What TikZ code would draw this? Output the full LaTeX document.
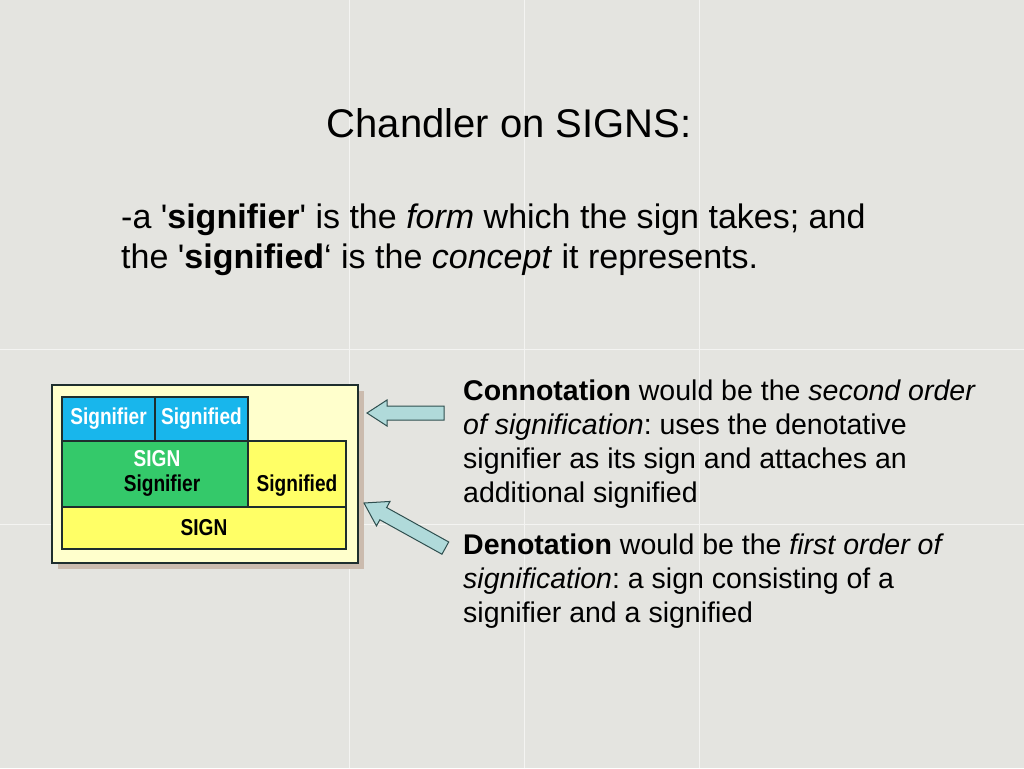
\documentclass[tikz,border=0pt]{standalone}
\usepackage{fontspec}
\usepackage{graphicx}
\setmainfont{Liberation Sans}[Ligatures=TeXOff]
\frenchspacing
\definecolor{bgc}{HTML}{E4E4E0}
\definecolor{tileline}{HTML}{F4F4F2}
\definecolor{paleyel}{HTML}{FFFFCC}
\definecolor{sigblue}{HTML}{18B6EC}
\definecolor{siggreen}{HTML}{34C96A}
\definecolor{sigyel}{HTML}{FFFF66}
\definecolor{shadowc}{HTML}{CBBBAE}
\definecolor{arrfill}{HTML}{B0DADA}
\definecolor{arrline}{HTML}{2F4F4F}
\definecolor{boxline}{HTML}{1E2E2E}
\newcommand{\dg}[1]{\scalebox{0.83}[1]{\bfseries #1}}
\tikzset{
  cell/.style={draw=boxline, line width=1.2pt},
  difont/.style={font=\fontsize{23}{26}\selectfont, inner sep=0pt},
  fatarrow/.style={fill=arrfill, draw=arrline, line width=1pt, line join=miter},
}
\begin{document}
\begin{tikzpicture}[x=1pt,y=-1pt]
\useasboundingbox (0,0) rectangle (1024,768);
\fill[bgc] (0,0) rectangle (1024,768);
\foreach \xx in {349,524,699} \draw[tileline, line width=0.8pt] (\xx,0) -- (\xx,768);
\foreach \yy in {349,524} \draw[tileline, line width=0.8pt] (0,\yy) -- (1024,\yy);

% title
\node[anchor=base, inner sep=0, font=\fontsize{40}{48}\selectfont] (title) at (509,137) {Chandler on SIGNS:};

% body
\node[anchor=base west, inner sep=0, font=\fontsize{34}{40}\selectfont] (body) at (121,228)
{\begin{tabular}[t]{@{}l@{}}
-a '\textbf{signifier}' is the \textit{form} which the sign takes; and\\
the '\textbf{signified}‘ is the \textit{concept} it represents.
\end{tabular}};

% diagram
\fill[shadowc] (58,391) rectangle (364,569);
\draw[fill=paleyel, draw=boxline, line width=1.2pt] (52,385) rectangle (358,563);
\draw[cell, fill=sigblue] (62,397) rectangle (155,441);
\draw[cell, fill=sigblue] (155,397) rectangle (248,441);
\draw[cell, fill=siggreen] (62,441) rectangle (248,507);
\draw[cell, fill=sigyel] (248,441) rectangle (346,507);
\draw[cell, fill=sigyel] (62,507) rectangle (346,549);

\node[difont, text=white] (bsr) at (108.5,419) {\dg{Signifier}};
\node[difont, text=white] (bsd) at (201.5,419) {\dg{Signified}};
\node[difont, text=white] (gsign) at (157,459) {\dg{SIGN}};
\node[difont, text=black] (gsr) at (162,486) {\dg{Signifier}};
\node[difont, text=black] (ysd) at (297,486) {\dg{Signified}};
\node[difont, text=black] (ysign) at (204,528) {\dg{SIGN}};

% arrows
\begin{scope}[shift={(367,413)}]
\draw[fatarrow] (0,0) -- (20,-13) -- (20,-7) -- (77,-7) -- (77,7) -- (20,7) -- (20,13) -- cycle;
\end{scope}
\begin{scope}[shift={(364,503)}, rotate=-29]
\draw[fatarrow] (0,0) -- (22,-14) -- (22,-7) -- (93,-7) -- (93,7) -- (22,7) -- (22,14) -- cycle;
\end{scope}

% right text
\node[anchor=base west, inner sep=0, font=\fontsize{28.5}{34.3}\selectfont] (conn) at (463,400)
{\begin{tabular}[t]{@{}l@{}}
\textbf{Connotation} would be the \textit{second order}\\
\textit{of signification}: uses the denotative\\
signifier as its sign and attaches an\\
additional signified
\end{tabular}};
\node[anchor=base west, inner sep=0, font=\fontsize{28.5}{34.3}\selectfont] (deno) at (463,554)
{\begin{tabular}[t]{@{}l@{}}
\textbf{Denotation} would be the \textit{first order of}\\
\textit{signification}: a sign consisting of a\\
signifier and a signified
\end{tabular}};
\end{tikzpicture}
\end{document}
